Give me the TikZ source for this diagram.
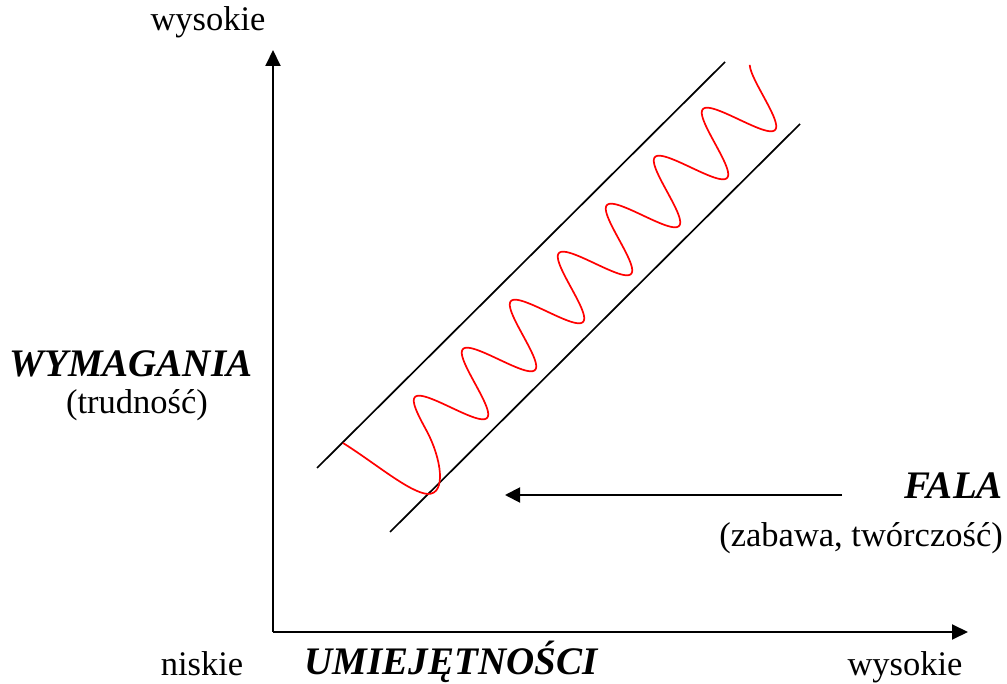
\documentclass[tikz,border=0pt]{standalone}
\usepackage{fontspec}
\setmainfont{Liberation Serif}
\usetikzlibrary{arrows.meta,positioning}

\begin{document}
\begin{tikzpicture}[
  x=1pt, y=1pt,
  every node/.style={font=\fontsize{34.5}{40}\selectfont, inner sep=0pt},
  title/.style={font=\fontsize{39}{46}\selectfont\bfseries\itshape},
  axis/.style={-{Triangle[length=16pt,width=15pt]}, line width=1.9pt},
  band/.style={line width=1.7pt},
  wave/.style={red, line width=1.7pt},
  arrow/.style={-{Triangle[length=15pt,width=15pt]}, line width=1.9pt}
]
\useasboundingbox (0,0) rectangle (1007,683);

% Axes
\coordinate (origin) at (273,51);
\coordinate (ytip) at (273,633);
\coordinate (xtip) at (968,51);
\draw[axis] (origin) -- (ytip);
\draw[axis] (origin) -- (xtip);

% Channel
\coordinate (up1) at (317,215);
\coordinate (up2) at (725,621);
\coordinate (lo1) at (390,151);
\coordinate (lo2) at (800,559);
\draw[band] (up1) -- (up2);
\draw[band] (lo1) -- (lo2);

% Wave
\coordinate (wstart) at (343,240);
\coordinate (wlow) at (428,189);
\coordinate (wzero) at (427,251.5);
\draw[wave] (wstart) .. controls (375,220) and (410,190) .. (wlow)
  .. controls (447,189) and (441,225) .. (wzero)
  -- plot[domain=0:7.2, samples=400, smooth]
  ({427+48*\x-24*sin(360*\x)}, {251.5+48*\x+22.5*sin(360*\x)});

% Labels
\node[anchor=base] (ytop) at (208,652) {wysokie};
\node[title, anchor=base] (wym) at (131,306) {WYMAGANIA};
\node[anchor=base] (trud) at ([xshift=6pt, yshift=-37pt]wym.base) {(trudność)};
\node[title, anchor=base east] (fala) at (1003,184) {FALA};
\node[anchor=base east] (zab) at ([yshift=-48pt]fala.base east) {(zabawa, twórczość)};
\node[anchor=base] (nisk) at (202,8) {niskie};
\node[title, anchor=base] (umi) at (451,9) {UMIEJĘTNOŚCI};
\node[anchor=base] (xright) at (905,8) {wysokie};

% Arrows
\coordinate (fstart) at (842,188);
\coordinate (fend) at (505,188);
\draw[arrow] (fstart) -- (fend);

\end{tikzpicture}
\end{document}
